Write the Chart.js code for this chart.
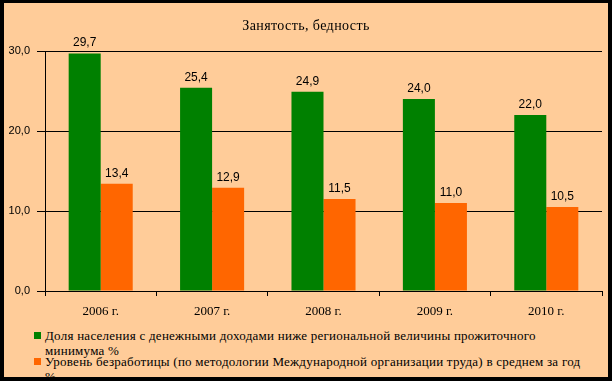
<!DOCTYPE html>
<html>
<head>
<meta charset="utf-8">
<script src="https://cdn.jsdelivr.net/npm/chart.js@4.4.0/dist/chart.umd.min.js"></script>
<style>
html,body{margin:0;padding:0;background:#000;width:612px;height:381px;overflow:hidden;}
#frame{position:absolute;left:4px;top:3px;width:604px;height:374px;background:#FFCC99;overflow:hidden;}
#wrap{position:absolute;left:0;top:0;width:604px;height:322px;}
#title{position:absolute;left:0;width:604px;top:15px;text-align:center;font-family:"Liberation Serif","DejaVu Serif",serif;font-size:14px;line-height:16px;letter-spacing:0.4px;color:#000;}
.item{position:absolute;left:41px;width:540px;font-family:"Liberation Serif","DejaVu Serif",serif;font-size:13px;line-height:15px;letter-spacing:0.25px;color:#000;}
.sw{position:absolute;left:-11px;top:4px;width:7px;height:7px;}
</style>
</head>
<body>
<div id="frame">
<div id="wrap"><canvas id="c" width="604" height="322"></canvas></div>
<div id="title"></div>
</div>
<script>
const title = "Занятость, бедность";
const categories = ["2006 г.", "2007 г.", "2008 г.", "2009 г.", "2010 г."];
const seriesNames = [
  "Доля населения с денежными доходами ниже региональной величины прожиточного минимума %",
  "Уровень безработицы (по методологии Международной организации труда) в среднем за год %"
];
const poverty = [29.7, 25.4, 24.9, 24.0, 22.0];
const unemployment = [13.4, 12.9, 11.5, 11.0, 10.5];
const yTicks = [0, 10, 20, 30];
const colors = ["#008000", "#FF6600"];

const fmt = v => v.toFixed(1).replace('.', ',');
const serif = '"Liberation Serif", "DejaVu Serif", serif';

const labelPlugin = {
  id: 'valueLabels',
  afterDatasetsDraw(chart) {
    const ctx = chart.ctx;
    ctx.save();
    ctx.font = '12px "Liberation Sans", Arial, sans-serif';
    ctx.fillStyle = '#000';
    ctx.textAlign = 'center';
    ctx.textBaseline = 'alphabetic';
    chart.data.datasets.forEach((ds, i) => {
      const meta = chart.getDatasetMeta(i);
      meta.data.forEach((bar, j) => {
        ctx.fillText(fmt(ds.data[j]), bar.x, bar.y - 7);
      });
    });
    ctx.restore();
  }
};

new Chart(document.getElementById('c'), {
  type: 'bar',
  data: {
    labels: categories,
    datasets: [
      {label: seriesNames[0], data: poverty, backgroundColor: colors[0], borderWidth: 0},
      {label: seriesNames[1], data: unemployment, backgroundColor: colors[1], borderWidth: 0}
    ]
  },
  options: {
    responsive: false,
    animation: false,
    devicePixelRatio: 1,
    layout: {padding: {left: 0, right: 6, top: 48, bottom: 0}},
    datasets: {bar: {categoryPercentage: 0.575, barPercentage: 1.0}},
    plugins: {
      legend: {display: false},
      tooltip: {enabled: false},
      title: {display: false}
    },
    scales: {
      x: {
        offset: true,
        grid: {offset: true, drawOnChartArea: false, drawTicks: true, tickLength: 5, color: '#000', lineWidth: 1},
        border: {display: true, color: '#000', width: 1},
        ticks: {color: '#000', padding: 8, font: {family: serif, size: 13}, maxRotation: 0},
        afterFit(s) { s.height = 34; }
      },
      y: {
        min: 0, max: 30,
        afterBuildTicks(s) { s.ticks = yTicks.map(v => ({value: v})); },
        grid: {color: '#000', lineWidth: 1, drawTicks: true, tickLength: 8},
        border: {display: true, color: '#000', width: 1},
        ticks: {color: '#000', padding: 7, font: {family: '"Liberation Sans", Arial, sans-serif', size: 11}, callback: v => fmt(v)},
        afterFit(s) { s.width = 41; }
      }
    }
  },
  plugins: [labelPlugin]
});

document.getElementById('title').textContent = title;
const frame = document.getElementById('frame');
const itemTops = [325, 351];
seriesNames.forEach((n, i) => {
  const d = document.createElement('div');
  d.className = 'item';
  d.style.top = itemTops[i] + 'px';
  const sw = document.createElement('span');
  sw.className = 'sw';
  sw.style.background = colors[i];
  d.appendChild(sw);
  d.appendChild(document.createTextNode(n));
  frame.appendChild(d);
});
</script>
</body>
</html>
